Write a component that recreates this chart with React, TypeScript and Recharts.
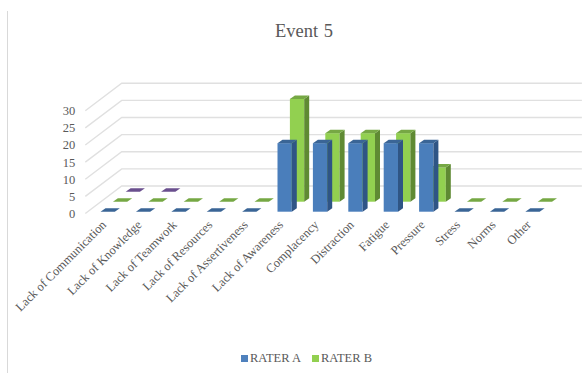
import React from 'react';
import { BarChart, Bar, XAxis, YAxis, CartesianGrid, Legend } from 'recharts';

const CATEGORIES = [
  'Lack of Communication',
  'Lack of Knowledge',
  'Lack of Teamwork',
  'Lack of Resources',
  'Lack of Assertiveness',
  'Lack of Awareness',
  'Complacency',
  'Distraction',
  'Fatigue',
  'Pressure',
  'Stress',
  'Norms',
  'Other',
];
const RATER_A = [0, 0, 0, 0, 0, 20, 20, 20, 20, 20, 0, 0, 0];
const RATER_B = [0, 0, 0, 0, 0, 30, 20, 20, 20, 10, 0, 0, 0];
// third series has no legend entry and only shows up on the first two categories
const RATER_C = [0, 0, null, null, null, null, null, null, null, null, null, null, null];
const Y_TICKS = [0, 5, 10, 15, 20, 25, 30];

const data = CATEGORIES.map((name, i) => ({
  name,
  a: RATER_A[i],
  b: RATER_B[i],
  c: RATER_C[i],
}));

const FONT = '"Liberation Serif", "Times New Roman", serif';
const TEXT = '#595959';
const GRID = '#e0e0e0';

// floor depth of the fake 3D box
const WALL_DX = 36.4;
const WALL_DY = 27.5;
// depth of a single bar
const BAR_W = 14.3;
const SIDE_DX = 5;
const SIDE_DY = 3.5;

const makeBox =
  (dataKey: 'a' | 'b' | 'c', dx: number, dy: number, front: string, side: string, top: string) =>
  (props: any) => {
    if (props.payload?.[dataKey] == null) return <g />;
    const x = props.x + dx;
    const y = props.y + dy;
    const w = props.width;
    const h = props.height;
    return (
      <g>
        {h > 0 && <rect x={x} y={y} width={w} height={h} fill={front} />}
        {h > 0 && (
          <polygon
            points={`${x + w},${y} ${x + w + SIDE_DX},${y - SIDE_DY} ${x + w + SIDE_DX},${y + h - SIDE_DY} ${x + w},${y + h}`}
            fill={side}
          />
        )}
        <polygon
          points={`${x},${y} ${x + SIDE_DX},${y - SIDE_DY} ${x + w + SIDE_DX},${y - SIDE_DY} ${x + w},${y}`}
          fill={top}
        />
      </g>
    );
  };

// each horizontal grid line runs up the side wall and then along the back wall
const wallLine = (props: any) => {
  const { x1, x2, y1, key } = props;
  return (
    <polyline
      key={key}
      points={`${x1},${y1} ${x1 + WALL_DX},${y1 - WALL_DY} ${x2 + WALL_DX},${y1 - WALL_DY}`}
      fill="none"
      stroke={GRID}
      strokeWidth={1.4}
    />
  );
};

const CategoryTick = (props: any) => {
  const { x, y, payload } = props;
  return (
    <text
      x={x + 4}
      y={y + 4}
      transform={`rotate(-45 ${x + 4} ${y + 4})`}
      textAnchor="end"
      fontFamily={FONT}
      fontSize={12.5}
      fill={TEXT}
    >
      {payload.value}
    </text>
  );
};

const LegendRow = (props: any) => (
  <div style={{ position: 'relative', height: 16, fontFamily: FONT, fontSize: 12.5, color: TEXT }}>
    {props.payload
      .filter((item: any) => item.type !== 'none')
      .map((item: any, i: number) => (
        <span key={item.value} style={{ position: 'absolute', left: 241 + i * 71, top: 0, whiteSpace: 'nowrap' }}>
          <span
            style={{
              display: 'inline-block',
              width: 7,
              height: 7,
              marginRight: 2,
              background: item.color,
            }}
          />
          {item.value}
        </span>
      ))}
  </div>
);

export default function App() {
  return (
    <div style={{ position: 'absolute', left: 0, top: 0, width: 588, height: 373, background: '#fff', overflow: 'hidden' }}>
      <div style={{ position: 'absolute', left: 7, top: 11, bottom: 0, width: 1, background: '#d9d9d9' }} />
      <div
        style={{
          position: 'absolute',
          left: 0,
          width: 608,
          top: 21,
          textAlign: 'center',
          fontFamily: FONT,
          fontSize: 18.5,
          color: TEXT,
          wordSpacing: 1,
        }}
      >
        Event 5
      </div>
      <BarChart
        width={588}
        height={373}
        data={data}
        barSize={BAR_W}
        barGap={-BAR_W}
        margin={{ top: 110.7, right: 42.5, bottom: 99.5, left: 25.3 }}
      >
        <CartesianGrid vertical={false} horizontal={wallLine} />
        <XAxis dataKey="name" height={60} interval={0} axisLine={false} tickLine={false} tick={<CategoryTick />} />
        <YAxis
          width={60}
          domain={[0, 30]}
          ticks={Y_TICKS}
          interval={0}
          axisLine={false}
          tickLine={false}
          tickMargin={4}
          tick={{ fontFamily: FONT, fontSize: 12.5, fill: TEXT }}
        />
        <Legend
          verticalAlign="middle"
          content={<LegendRow />}
          wrapperStyle={{ left: 0, top: 351, width: 588, bottom: 'auto' }}
        />
        <Bar
          dataKey="c"
          name="Unlabelled"
          legendType="none"
          fill="#6a4f8e"
          isAnimationActive={false}
          shape={makeBox('c', 29.35, -21.8, '#8064a2', '#5c4776', '#6a4f8e')}
        />
        <Bar
          dataKey="b"
          name="RATER B"
          fill="#92d050"
          isAnimationActive={false}
          shape={makeBox('b', 16.6, -11.8, '#92d050', '#5f8a33', '#76a844')}
        />
        <Bar
          dataKey="a"
          name="RATER A"
          fill="#4f81bd"
          isAnimationActive={false}
          shape={makeBox('a', 4.2, -1.8, '#4a7ebb', '#2f5585', '#3a6596')}
        />
      </BarChart>
    </div>
  );
}
